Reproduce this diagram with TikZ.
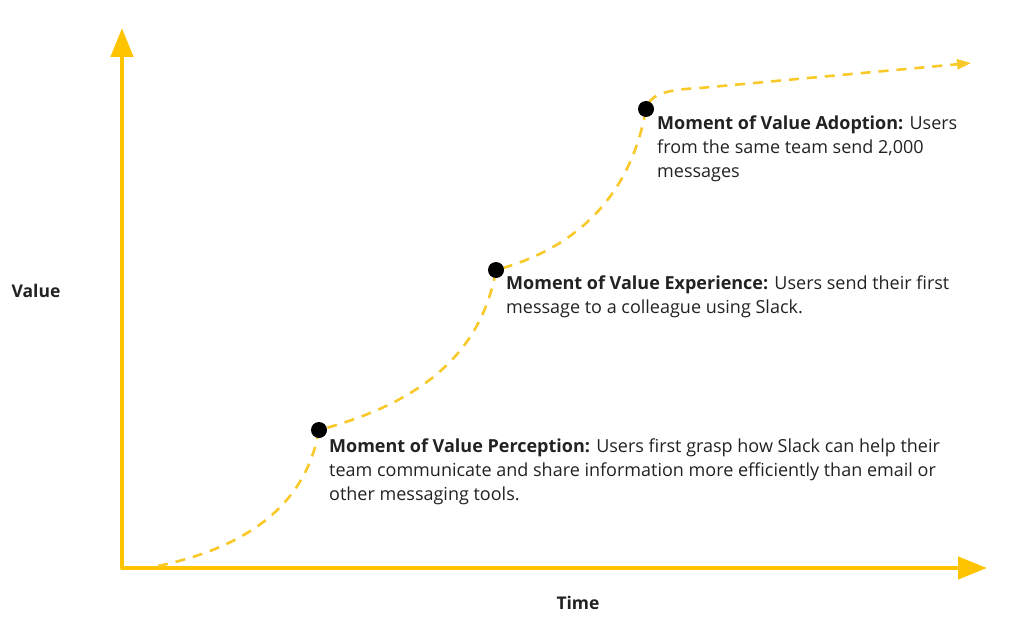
\documentclass[tikz,border=0pt]{standalone}
\usepackage{fontspec}
\setmainfont{Open Sans}
\usetikzlibrary{arrows.meta}

\definecolor{slackyellow}{RGB}{255,196,0}
\definecolor{trailyellow}{RGB}{248,201,40}
\definecolor{inktext}{RGB}{34,34,34}

\begin{document}
\begin{tikzpicture}[x=1pt, y=1pt,
  axis/.style={draw=slackyellow, line width=4.5pt, line join=round,
    {Triangle[length=29pt, width=22pt]}-{Triangle[length=29pt, width=22pt]}},
  trail/.style={draw=trailyellow, line width=2.6pt, dash pattern=on 10pt off 8pt,
    -{Triangle[length=14pt, width=10pt]}},
  dot/.style={circle, fill=black, minimum size=16pt, inner sep=0pt},
  every node/.style={text=inktext, font=\fontsize{18}{24}\selectfont},
  moment/.style={anchor=north west, align=left, inner sep=0pt}]
\useasboundingbox (0,0) rectangle (1024,641);
% axes
\coordinate (O) at (122,73);
\coordinate (Ytop) at (122,613);
\coordinate (Xend) at (987,73);
\draw[axis] (Ytop) -- (O) -- (Xend);
\node[font=\fontsize{17.5}{24}\selectfont\bfseries] (value) at (36,350) {Value};
\node[font=\fontsize{17.5}{24}\selectfont\bfseries] (time) at (578,38) {Time};
% the three moments
\coordinate (start) at (158,75);
\coordinate (perc) at (319,211);
\coordinate (exper) at (496,371);
\coordinate (adopt) at (646,532);
\coordinate (bend) at (700,553);
\coordinate (trailend) at (971,578);
\draw[trail] (start) to[out=12, in=-100] (perc)
  to[out=15, in=-100] (exper)
  to[out=15, in=-100] (adopt)
  .. controls (650,545) and (660,551) .. (bend) -- (trailend);
\node[dot] (percdot) at (perc) {};
\node[dot] (experdot) at (exper) {};
\node[dot] (adoptdot) at (adopt) {};
\node[moment] (perctext) at (329,202) {\textbf{Moment of Value Perception:} Users first grasp how Slack can help their\\
  team communicate and share information more efficiently than email or\\
  other messaging tools.};
\node[moment] (expertext) at (506,365) {\textbf{Moment of Value Experience:} Users send their first\\
  message to a colleague using Slack.};
\node[moment] (adopttext) at (657,525) {\textbf{Moment of Value Adoption:} Users\\
  from the same team send 2,000\\
  messages};
\end{tikzpicture}
\end{document}
